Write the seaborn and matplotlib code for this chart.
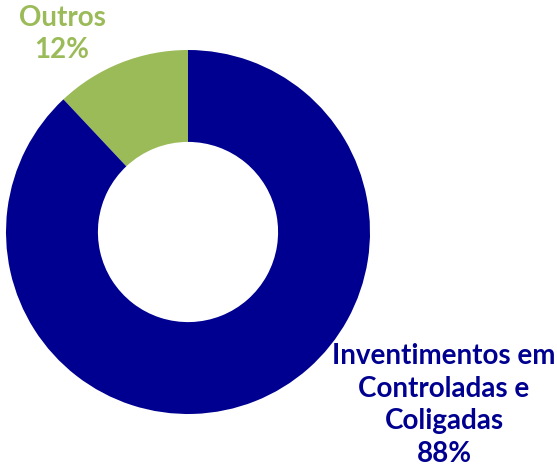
import matplotlib
matplotlib.use("Agg")
import matplotlib.pyplot as plt
import seaborn as sns

# ── Data ───────────────────────────────────────────────────────
labels = ["Outros", "Inventimentos em\nControladas e\nColigadas"]
shares = [12, 88]
colors = ["#9BBB59", "#000090"]

sns.set_theme(style="white")
plt.rcParams["font.family"] = ["Lato", "DejaVu Sans"]

fig = plt.figure(figsize=(5.57, 4.75), dpi=100)
ax = fig.add_axes([6 / 557, 61 / 475, 364 / 557, 364 / 475])

ax.pie(shares, colors=colors, startangle=90, counterclock=True,
       radius=1.0, wedgeprops=dict(width=0.505, edgecolor="none"))
ax.set_xlim(-1, 1)
ax.set_ylim(-1, 1)
ax.set_aspect("equal")
ax.axis("off")

# ── Labels ─────────────────────────────────────────────────────
fig.text(62 / 557, 1 - 34 / 475, f"{labels[0]}\n{shares[0]}%",
         ha="center", va="center", fontsize=20, fontweight="bold",
         color=colors[0], linespacing=1.33)
fig.text(444 / 557, 1 - 405 / 475, f"{labels[1]}\n{shares[1]}%",
         ha="center", va="center", fontsize=20, fontweight="bold",
         color=colors[1], linespacing=1.33)

fig.savefig("out.png", dpi=100)
